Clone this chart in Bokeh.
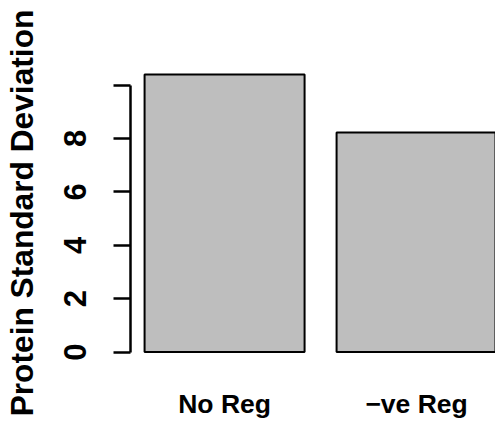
from bokeh.plotting import figure
from bokeh.models import Range1d, FixedTicker, ColumnDataSource
from bokeh.embed import file_html
from bokeh.resources import INLINE

# ---- data ----
categories = ["No Reg", "\u2212ve Reg"]
values = [10.39, 8.22]
y_ticks = [0, 2, 4, 6, 8, 10]
y_tick_labels = ["0", "2", "4", "6", "8", ""]
y_label = "Protein Standard Deviation"

# R barplot geometry (width 1, space 0.2)
bar_width = 1.0
space = 0.2
centers = [space * (i + 1) + bar_width * i + bar_width / 2 for i in range(len(values))]

FONT = "Liberation Sans"
W, H = 495, 421
LEFT, TOP, BOTTOM = 130, 63, 58
PX_PER_X = 160.0
PX_PER_Y = 26.8

x_lo = space - 0.04 * (centers[-1] + bar_width / 2 - space)
x_hi = x_lo + (W - LEFT) / PX_PER_X   # R device is wider than the picture
y_hi = max(values) * 1.04
y_lo = y_hi - (H - TOP - BOTTOM) / PX_PER_Y

p = figure(width=W, height=H, output_backend="svg", toolbar_location=None,
           x_range=Range1d(x_lo, x_hi), y_range=Range1d(y_lo, y_hi),
           min_border_left=LEFT, min_border_right=0, min_border_top=TOP,
           min_border_bottom=BOTTOM)
p.outline_line_color = None
p.grid.visible = False
p.background_fill_color = "white"
p.border_fill_color = "white"

src = ColumnDataSource(dict(x=centers, top=values, cat=categories))
p.vbar(x="x", top="top", bottom=0, width=bar_width, source=src,
       fill_color="#BEBEBE", line_color="black", line_width=2)

# y axis
ya = p.yaxis[0]
ya.ticker = FixedTicker(ticks=y_ticks)
ya.major_label_overrides = {t: l for t, l in zip(y_ticks, y_tick_labels)}
ya.bounds = (y_ticks[0], y_ticks[-1])
ya.minor_tick_line_color = None
ya.major_tick_out = 17
ya.major_tick_in = 0
ya.axis_line_width = 2.5
ya.major_tick_line_width = 2.5
ya.major_label_orientation = "vertical"
ya.major_label_text_font = FONT
ya.major_label_text_font_style = "bold"
ya.major_label_text_font_size = "31px"
ya.major_label_text_color = "black"
ya.major_label_standoff = 27
ya.axis_label = y_label
ya.axis_label_text_font = FONT
ya.axis_label_text_font_style = "bold"
ya.axis_label_text_font_size = "31.7px"
ya.axis_label_text_color = "black"
ya.axis_label_standoff = 22

# x axis: category names only
xa = p.xaxis[0]
xa.ticker = FixedTicker(ticks=centers)
xa.major_label_overrides = {c: n for c, n in zip(centers, categories)}
xa.axis_line_color = None
xa.major_tick_line_color = None
xa.major_tick_out = 0
xa.major_tick_in = 0
xa.minor_tick_line_color = None
xa.minor_tick_out = 0
xa.major_label_text_font = FONT
xa.major_label_text_font_style = "bold"
xa.major_label_text_font_size = "26.5px"
xa.major_label_text_color = "black"
xa.major_label_standoff = 26

open("out.html", "w").write(file_html(p, INLINE))
